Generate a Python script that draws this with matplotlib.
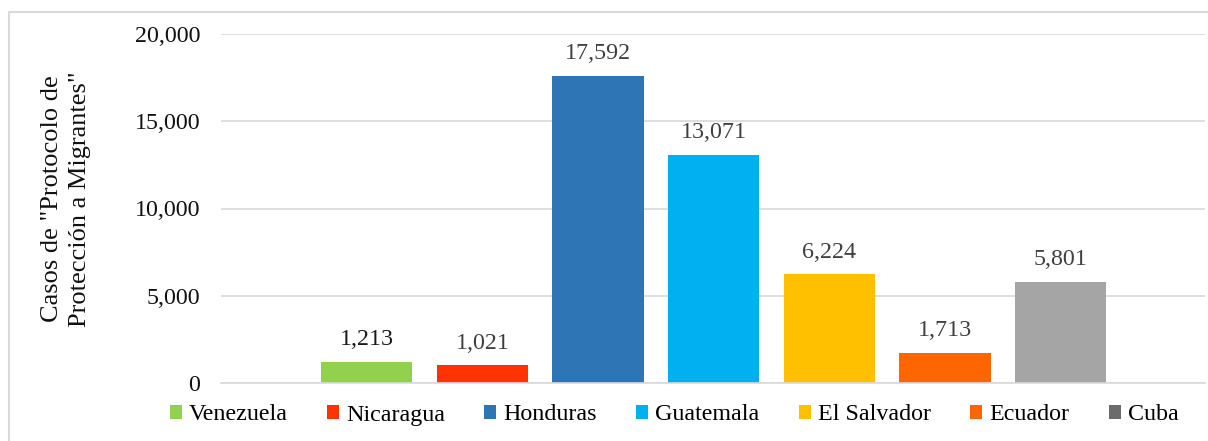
import matplotlib.pyplot as plt
from matplotlib.patches import Patch, Rectangle

# Casos por país
paises = ['Venezuela', 'Nicaragua', 'Honduras', 'Guatemala', 'El Salvador', 'Ecuador', 'Cuba']
casos = [1213, 1021, 17592, 13071, 6224, 1713, 5801]
colores = ['#92D050', '#FF3300', '#2E75B6', '#00B0F0', '#FFC000', '#FF6600', '#A5A5A5']
colores_leyenda = ['#92D050', '#FF3300', '#2E75B6', '#00B0F0', '#FFC000', '#FF6600', '#6B6B6B']
yticks = [0, 5000, 10000, 15000, 20000]

plt.rcParams['font.family'] = ['Liberation Serif', 'DejaVu Serif']
fs = 17.3

fig = plt.figure(figsize=(12.08, 4.41), dpi=100)
ax = fig.add_axes([221 / 1208, 1 - 383 / 441, (1205 - 221) / 1208, (383 - 34) / 441])

x = range(len(paises))
ax.bar(x, casos, width=0.79, color=colores, zorder=2)

for i, v in enumerate(casos):
    ax.annotate(f'{v:,}', (i, v), xytext=(0, 12), textcoords='offset points',
                ha='center', va='baseline', fontsize=fs,
                color='#1a1a1a' if i == 0 else '#404040')

ax.set_xlim(-1.26, 7.25)
ax.set_ylim(0, 20000)
ax.set_yticks(yticks)
ax.set_yticklabels([f'{t:,}' for t in yticks], fontsize=fs, color='#111111')
ax.set_xticks([])
ax.tick_params(axis='y', length=0, pad=15)
ax.grid(axis='y', color='#D9D9D9', linewidth=1.2)
ax.set_axisbelow(True)
for s in ['top', 'right', 'left']:
    ax.spines[s].set_visible(False)
ax.spines['bottom'].set_color('#D9D9D9')
ax.spines['bottom'].set_linewidth(1.2)

fig.text(66 / 1208, 1 - 199 / 441, 'Casos de "Protocolo de\nProtección a Migrantes"',
         rotation=90, ha='center', va='center', multialignment='center',
         fontsize=19, linespacing=1.3, color='#111111')

handles = [Patch(facecolor=c) for c in colores_leyenda]
fig.legend(handles, paises, loc='center', bbox_to_anchor=(674 / 1208, 1 - 415 / 441),
           ncol=7, frameon=False, fontsize=fs, handlelength=0.5, handleheight=0.5,
           handletextpad=0.29, columnspacing=1.64, borderpad=0, borderaxespad=0)

# marco exterior
fig.add_artist(Rectangle((9 / 1208, -0.1), 1.2, 1.1 - 12 / 441, transform=fig.transFigure,
                         fill=False, edgecolor='#D9D9D9', linewidth=1.5))

fig.savefig('out.png', dpi=100)
